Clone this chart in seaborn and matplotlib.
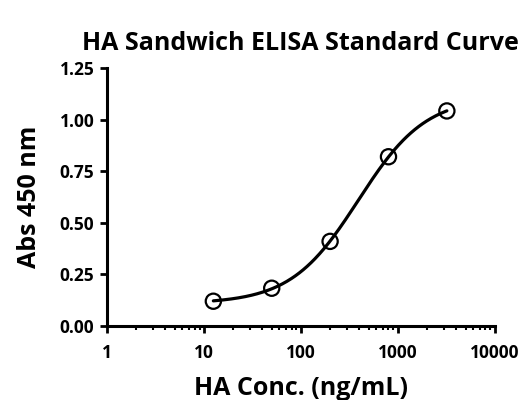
import numpy as np
import pandas as pd
import matplotlib
matplotlib.use("Agg")
import matplotlib.pyplot as plt
import seaborn as sns
from matplotlib.ticker import LogLocator, FixedLocator, NullFormatter

# Data
conc = [12.5, 50, 200, 800, 3200]
absorb = [0.12, 0.183, 0.41, 0.82, 1.042]
x_ticks = [1, 10, 100, 1000, 10000]
x_tick_labels = ["1", "10", "100", "1000", "10000"]
y_ticks = [0.0, 0.25, 0.5, 0.75, 1.0, 1.25]
y_tick_labels = ["0.00", "0.25", "0.50", "0.75", "1.00", "1.25"]

# 4-parameter logistic fit (Levenberg-Marquardt in numpy)
X = np.array(conc, float)
Y = np.array(absorb, float)

def f4(p, x):
    a, d, lc, b = p
    return d + (a - d) / (1 + (x / 10 ** lc) ** b)

p = np.array([0.1, 1.15, np.log10(400), 1.2])
lam = 1e-3
for _ in range(500):
    r = Y - f4(p, X)
    J = np.zeros((len(X), 4))
    for k in range(4):
        dp = np.zeros(4); dp[k] = 1e-6
        J[:, k] = (f4(p + dp, X) - f4(p - dp, X)) / 2e-6
    A = J.T @ J
    g = J.T @ r
    step = np.linalg.solve(A + lam * np.diag(np.diag(A)), g)
    pn = p + step
    if np.sum((Y - f4(pn, X)) ** 2) < np.sum(r ** 2):
        p = pn; lam *= 0.5
    else:
        lam *= 4

xs = np.logspace(np.log10(conc[0]), np.log10(conc[-1]), 300)
curve = pd.DataFrame({"x": xs, "y": f4(p, xs)})
pts = pd.DataFrame({"x": conc, "y": absorb})

sns.set_theme(style="ticks")
plt.rcParams["font.family"] = ["Open Sans", "DejaVu Sans"]
plt.rcParams["font.weight"] = "bold"
plt.rcParams["text.color"] = "black"
plt.rcParams["axes.labelcolor"] = "black"

fig = plt.figure(figsize=(5.27, 4.0), dpi=100)
ax = fig.add_axes([0.203, 0.185, 0.736, 0.645])

sns.lineplot(data=curve, x="x", y="y", ax=ax, color="black", linewidth=2.3)
sns.scatterplot(data=pts, x="x", y="y", ax=ax, s=120, facecolor="none",
                edgecolor="black", linewidth=1.6, zorder=3)

ax.set_xscale("log")
ax.set_xlim(1, 10000)
ax.set_ylim(0, 1.25)
ax.xaxis.set_major_locator(FixedLocator(x_ticks))
ax.set_xticklabels(x_tick_labels)
ax.xaxis.set_minor_locator(LogLocator(base=10, subs=np.arange(2, 10)))
ax.xaxis.set_minor_formatter(NullFormatter())
ax.set_yticks(y_ticks)
ax.set_yticklabels(y_tick_labels)

for s in ["top", "right"]:
    ax.spines[s].set_visible(False)
for s in ["left", "bottom"]:
    ax.spines[s].set_linewidth(2.2)
    ax.spines[s].set_color("black")

ax.tick_params(axis="both", which="major", direction="out", length=5, width=2,
               labelsize=12.5, colors="black", labelcolor="black")
ax.tick_params(axis="x", which="major", pad=8)
ax.tick_params(axis="y", which="major", pad=4)
ax.tick_params(axis="x", which="minor", direction="out", length=3, width=1.5,
               colors="black")
for lab in ax.get_xticklabels() + ax.get_yticklabels():
    lab.set_fontweight("bold")

ax.set_xlabel("HA Conc. (ng/mL)", fontsize=18, fontweight="bold", labelpad=10)
ax.set_ylabel("Abs 450 nm", fontsize=18, fontweight="bold", labelpad=13)
ax.set_title("HA Sandwich ELISA Standard Curve", fontsize=18,
             fontweight="bold", pad=13)

fig.savefig("out.png", dpi=100)
